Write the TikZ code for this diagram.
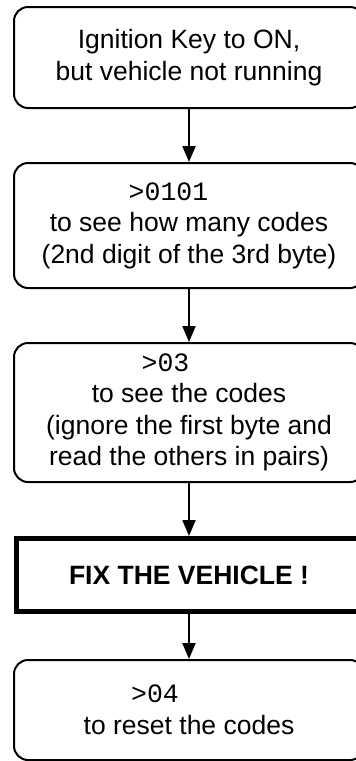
\documentclass[tikz,border=0pt]{standalone}
\usepackage{fontspec}
\setmainfont{Liberation Sans}
\setmonofont{Liberation Mono}
\usetikzlibrary{arrows.meta}

\begin{document}
\begin{tikzpicture}[x=0.5pt,y=-0.5pt,
    stepbox/.style={draw, line width=1pt, rounded corners=7pt,
      minimum width=175pt, inner sep=0pt, align=center,
      font=\fontsize{13.25pt}{15.75pt}\selectfont},
    fixbox/.style={draw, line width=2.5pt, minimum width=172.5pt,
      minimum height=36.5pt, inner sep=0pt,
      font=\fontsize{13.25pt}{15.75pt}\selectfont\bfseries},
    flow/.style={-{Triangle[length=8pt,width=6.5pt]}, line width=1pt}]
  \useasboundingbox (0,0) rectangle (356,761);

  % Steps, top to bottom
  \node[stepbox, minimum height=50.5pt] (key) at (189,57.5)
    {Ignition Key to ON,\\but vehicle not running};
  \node[stepbox, minimum height=62.5pt] (count) at (189,225.5)
    {\hspace*{-20.5pt}\texttt{>0101}\\to see how many codes\\(2nd digit of the 3rd byte)};
  \node[stepbox, minimum height=69.5pt] (codes) at (189,412.5)
    {\hspace*{-23.5pt}\texttt{>03}\\to see the codes\\(ignore the first byte and\\read the others in pairs)};
  \node[fixbox] (fix) at (189,575) {FIX THE VEHICLE !};
  \node[stepbox, minimum height=50pt] (reset) at (189,710)
    {\hspace*{-34pt}\texttt{>04}\\to reset the codes};

  % Arrows between the steps
  \draw[flow] (key) -- (count);
  \draw[flow] (count) -- (codes);
  \draw[flow] (codes) -- (fix);
  \draw[flow] (fix) -- (reset);
\end{tikzpicture}
\end{document}
